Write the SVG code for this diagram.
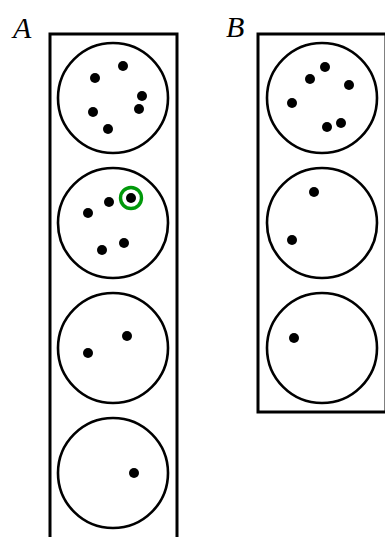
<svg xmlns="http://www.w3.org/2000/svg" width="385" height="537" viewBox="0 0 385 537">
<style>
.box{fill:none;stroke:#000;stroke-width:3}
.urn{fill:none;stroke:#000;stroke-width:2.6}
.dot{fill:#000}
.mark{fill:none;stroke:#00990a;stroke-width:3.4}
.lbl{font-family:"Liberation Serif","DejaVu Serif",serif;font-style:italic;font-size:30px;fill:#000}
</style>
<rect width="385" height="537" fill="#fff"/>
<g id="setA">
<text class="lbl" x="13" y="38">A</text>
<path class="box" d="M50,540 V34 H177 V540"/>
<g id="A1"><circle class="urn" cx="113" cy="98" r="55"/>
<circle class="dot" cx="95" cy="78" r="5"/><circle class="dot" cx="123" cy="66" r="5"/><circle class="dot" cx="142" cy="96" r="5"/><circle class="dot" cx="139" cy="109" r="5"/><circle class="dot" cx="93" cy="112" r="5"/><circle class="dot" cx="108" cy="129" r="5"/></g>
<g id="A2"><circle class="urn" cx="113" cy="223" r="55"/>
<circle class="dot" cx="109" cy="202" r="5"/><circle class="dot" cx="88" cy="213" r="5"/><circle class="dot" cx="131" cy="198" r="5"/><circle class="mark" cx="131" cy="198" r="10.5"/><circle class="dot" cx="102" cy="250" r="5"/><circle class="dot" cx="124" cy="243" r="5"/></g>
<g id="A3"><circle class="urn" cx="113" cy="348" r="55"/>
<circle class="dot" cx="127" cy="336" r="5"/><circle class="dot" cx="88" cy="353" r="5"/></g>
<g id="A4"><circle class="urn" cx="113" cy="473" r="55"/>
<circle class="dot" cx="134" cy="473" r="5"/></g>
</g>
<g id="setB">
<text class="lbl" x="226" y="37">B</text>
<rect class="box" x="258" y="34" width="128" height="378"/>
<g id="B1"><circle class="urn" cx="322" cy="98" r="55"/>
<circle class="dot" cx="325" cy="67" r="5"/><circle class="dot" cx="310" cy="79" r="5"/><circle class="dot" cx="349" cy="85" r="5"/><circle class="dot" cx="292" cy="103" r="5"/><circle class="dot" cx="327" cy="127" r="5"/><circle class="dot" cx="341" cy="123" r="5"/></g>
<g id="B2"><circle class="urn" cx="322" cy="223" r="55"/>
<circle class="dot" cx="314" cy="192" r="5"/><circle class="dot" cx="292" cy="240" r="5"/></g>
<g id="B3"><circle class="urn" cx="322" cy="348" r="55"/>
<circle class="dot" cx="294" cy="338" r="5"/></g>
</g>
<g id="connectors"/>
</svg>
